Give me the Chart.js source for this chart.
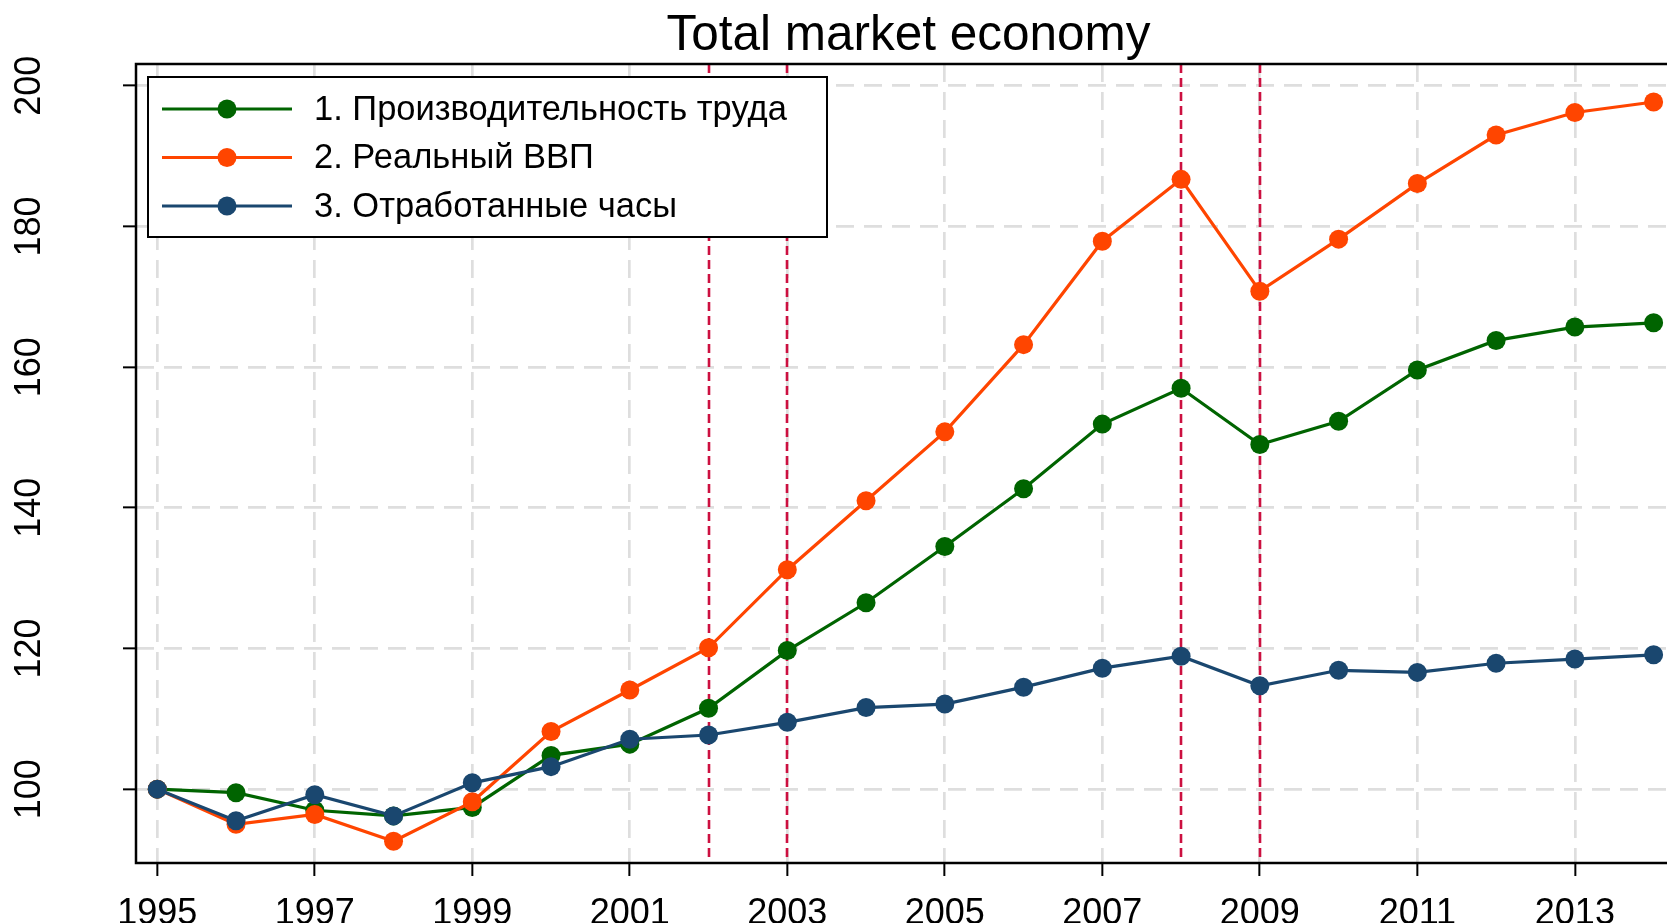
<!DOCTYPE html>
<html>
<head>
<meta charset="utf-8">
<script src="https://cdn.jsdelivr.net/npm/chart.js@4.4.1/dist/chart.umd.min.js"></script>
<style>
  html, body { margin: 0; padding: 0; background: #fff; }
</style>
</head>
<body>
<canvas id="chart" width="1667" height="923"></canvas>
<script>
const years = [1995, 1996, 1997, 1998, 1999, 2000, 2001, 2002, 2003, 2004,
  2005, 2006, 2007, 2008, 2009, 2010, 2011, 2012, 2013, 2014];
const productivity = [100, 99.5, 97.0, 96.2, 97.4, 104.8, 106.4, 111.5, 119.7, 126.5,
  134.5, 142.7, 151.9, 157.0, 149.0, 152.3, 159.6, 163.8, 165.7, 166.3];
const realGdp = [100, 95.0, 96.4, 92.6, 98.2, 108.2, 114.1, 120.1, 131.2, 141.0,
  150.8, 163.2, 177.9, 186.7, 170.8, 178.2, 186.1, 193.0, 196.2, 197.7];
const hoursWorked = [100, 95.5, 99.2, 96.2, 100.9, 103.2, 107.1, 107.7, 109.5, 111.6,
  112.1, 114.5, 117.2, 118.9, 114.7, 116.9, 116.6, 117.9, 118.5, 119.1];

const seriesNames = ['1. Производительность труда', '2. Реальный ВВП', '3. Отработанные часы'];
const seriesColors = ['#006400', '#ff4500', '#1a476f'];
const xTicks = [1995, 1997, 1999, 2001, 2003, 2005, 2007, 2009, 2011, 2013];
const yTicks = [100, 120, 140, 160, 180, 200];
const markedYears = [2002, 2003, 2008, 2009];
const chartTitle = 'Total market economy';

const FONT = "'Liberation Sans', Arial, Helvetica, sans-serif";
Chart.defaults.font.family = FONT;
Chart.defaults.color = '#000';

const toPoints = vals => vals.map((v, i) => ({ x: years[i], y: v }));

function makeSet(idx, vals, order) {
  return {
    label: seriesNames[idx],
    data: toPoints(vals),
    borderColor: seriesColors[idx],
    backgroundColor: seriesColors[idx],
    pointBackgroundColor: seriesColors[idx],
    pointBorderWidth: 0,
    pointRadius: 9.5,
    pointHoverRadius: 9.5,
    borderWidth: 3.2,
    tension: 0,
    order: order
  };
}

// red verticals, frame, rotated y labels, title and boxed legend
const decor = {
  id: 'decor',
  beforeDatasetsDraw(chart) {
    const { ctx, chartArea: a, scales: { x } } = chart;
    ctx.save();
    ctx.strokeStyle = '#cc1040';
    ctx.lineWidth = 2.6;
    ctx.setLineDash([9, 5]);
    markedYears.forEach(yr => {
      const px = Math.round(x.getPixelForValue(yr));
      ctx.beginPath();
      ctx.moveTo(px, a.top);
      ctx.lineTo(px, a.bottom);
      ctx.stroke();
    });
    ctx.restore();
  },
  afterDraw(chart) {
    const { ctx, chartArea: a, scales: { y } } = chart;
    ctx.save();

    ctx.strokeStyle = '#000';
    ctx.lineWidth = 2.5;
    ctx.beginPath();
    ctx.moveTo(a.right + 5, a.top);
    ctx.lineTo(a.left, a.top);
    ctx.lineTo(a.left, a.bottom);
    ctx.lineTo(a.right + 5, a.bottom);
    ctx.stroke();

    ctx.fillStyle = '#000';
    ctx.font = '36px ' + FONT;
    ctx.textAlign = 'center';
    ctx.textBaseline = 'middle';
    yTicks.forEach(v => {
      ctx.save();
      ctx.translate(30, y.getPixelForValue(v));
      ctx.rotate(-Math.PI / 2);
      ctx.fillText(String(v), 0, 0);
      ctx.restore();
    });

    ctx.font = '49.5px ' + FONT;
    ctx.textBaseline = 'alphabetic';
    ctx.fillText(chartTitle, (a.left + a.right) / 2 + 7, 50);

    // legend
    const bx = 148, by = 77, bw = 679, bh = 160;
    ctx.fillStyle = '#fff';
    ctx.fillRect(bx, by, bw, bh);
    ctx.strokeStyle = '#000';
    ctx.lineWidth = 2;
    ctx.strokeRect(bx, by, bw, bh);
    ctx.font = '34.5px ' + FONT;
    ctx.textAlign = 'left';
    ctx.textBaseline = 'middle';
    seriesNames.forEach((name, i) => {
      const ry = 109 + i * 48.5;
      ctx.strokeStyle = seriesColors[i];
      ctx.lineWidth = 3.2;
      ctx.beginPath();
      ctx.moveTo(162, ry);
      ctx.lineTo(292, ry);
      ctx.stroke();
      ctx.fillStyle = seriesColors[i];
      ctx.beginPath();
      ctx.arc(227, ry, 9.5, 0, Math.PI * 2);
      ctx.fill();
      ctx.fillStyle = '#000';
      ctx.fillText(name, 314, ry + 1);
    });
    ctx.restore();
  }
};

new Chart(document.getElementById('chart'), {
  type: 'line',
  data: {
    datasets: [
      makeSet(0, productivity, 3),
      makeSet(1, realGdp, 2),
      makeSet(2, hoursWorked, 1)
    ]
  },
  options: {
    responsive: false,
    animation: false,
    events: [],
    layout: { autoPadding: false, padding: { top: 64, left: 0, right: 0, bottom: 0 } },
    plugins: {
      legend: { display: false },
      title: { display: false },
      tooltip: { enabled: false }
    },
    scales: {
      x: {
        type: 'linear',
        min: 1994.73,
        max: 2014.17,
        afterBuildTicks: s => { s.ticks = xTicks.map(v => ({ value: v })); },
        afterFit: s => { s.height = 60; s.paddingLeft = 0; s.paddingRight = 0; },
        ticks: {
          callback: v => String(v),
          font: { size: 36, lineHeight: 1 },
          color: '#000',
          padding: 20,
          maxRotation: 0,
          autoSkip: false
        },
        grid: {
          color: '#dedede',
          lineWidth: 2.7,
          tickColor: '#000',
          tickWidth: 2,
          tickLength: 13,
          tickBorderDash: []
        },
        border: { display: false, dash: [18, 10] }
      },
      y: {
        min: 89.5,
        max: 203.1,
        afterBuildTicks: s => { s.ticks = yTicks.map(v => ({ value: v })); },
        afterFit: s => { s.width = 136; },
        ticks: { display: false },
        grid: {
          color: '#dedede',
          lineWidth: 2.7,
          tickColor: '#000',
          tickWidth: 2,
          tickLength: 13,
          tickBorderDash: []
        },
        border: { display: false, dash: [18, 10] }
      }
    }
  },
  plugins: [decor]
});
</script>
</body>
</html>
